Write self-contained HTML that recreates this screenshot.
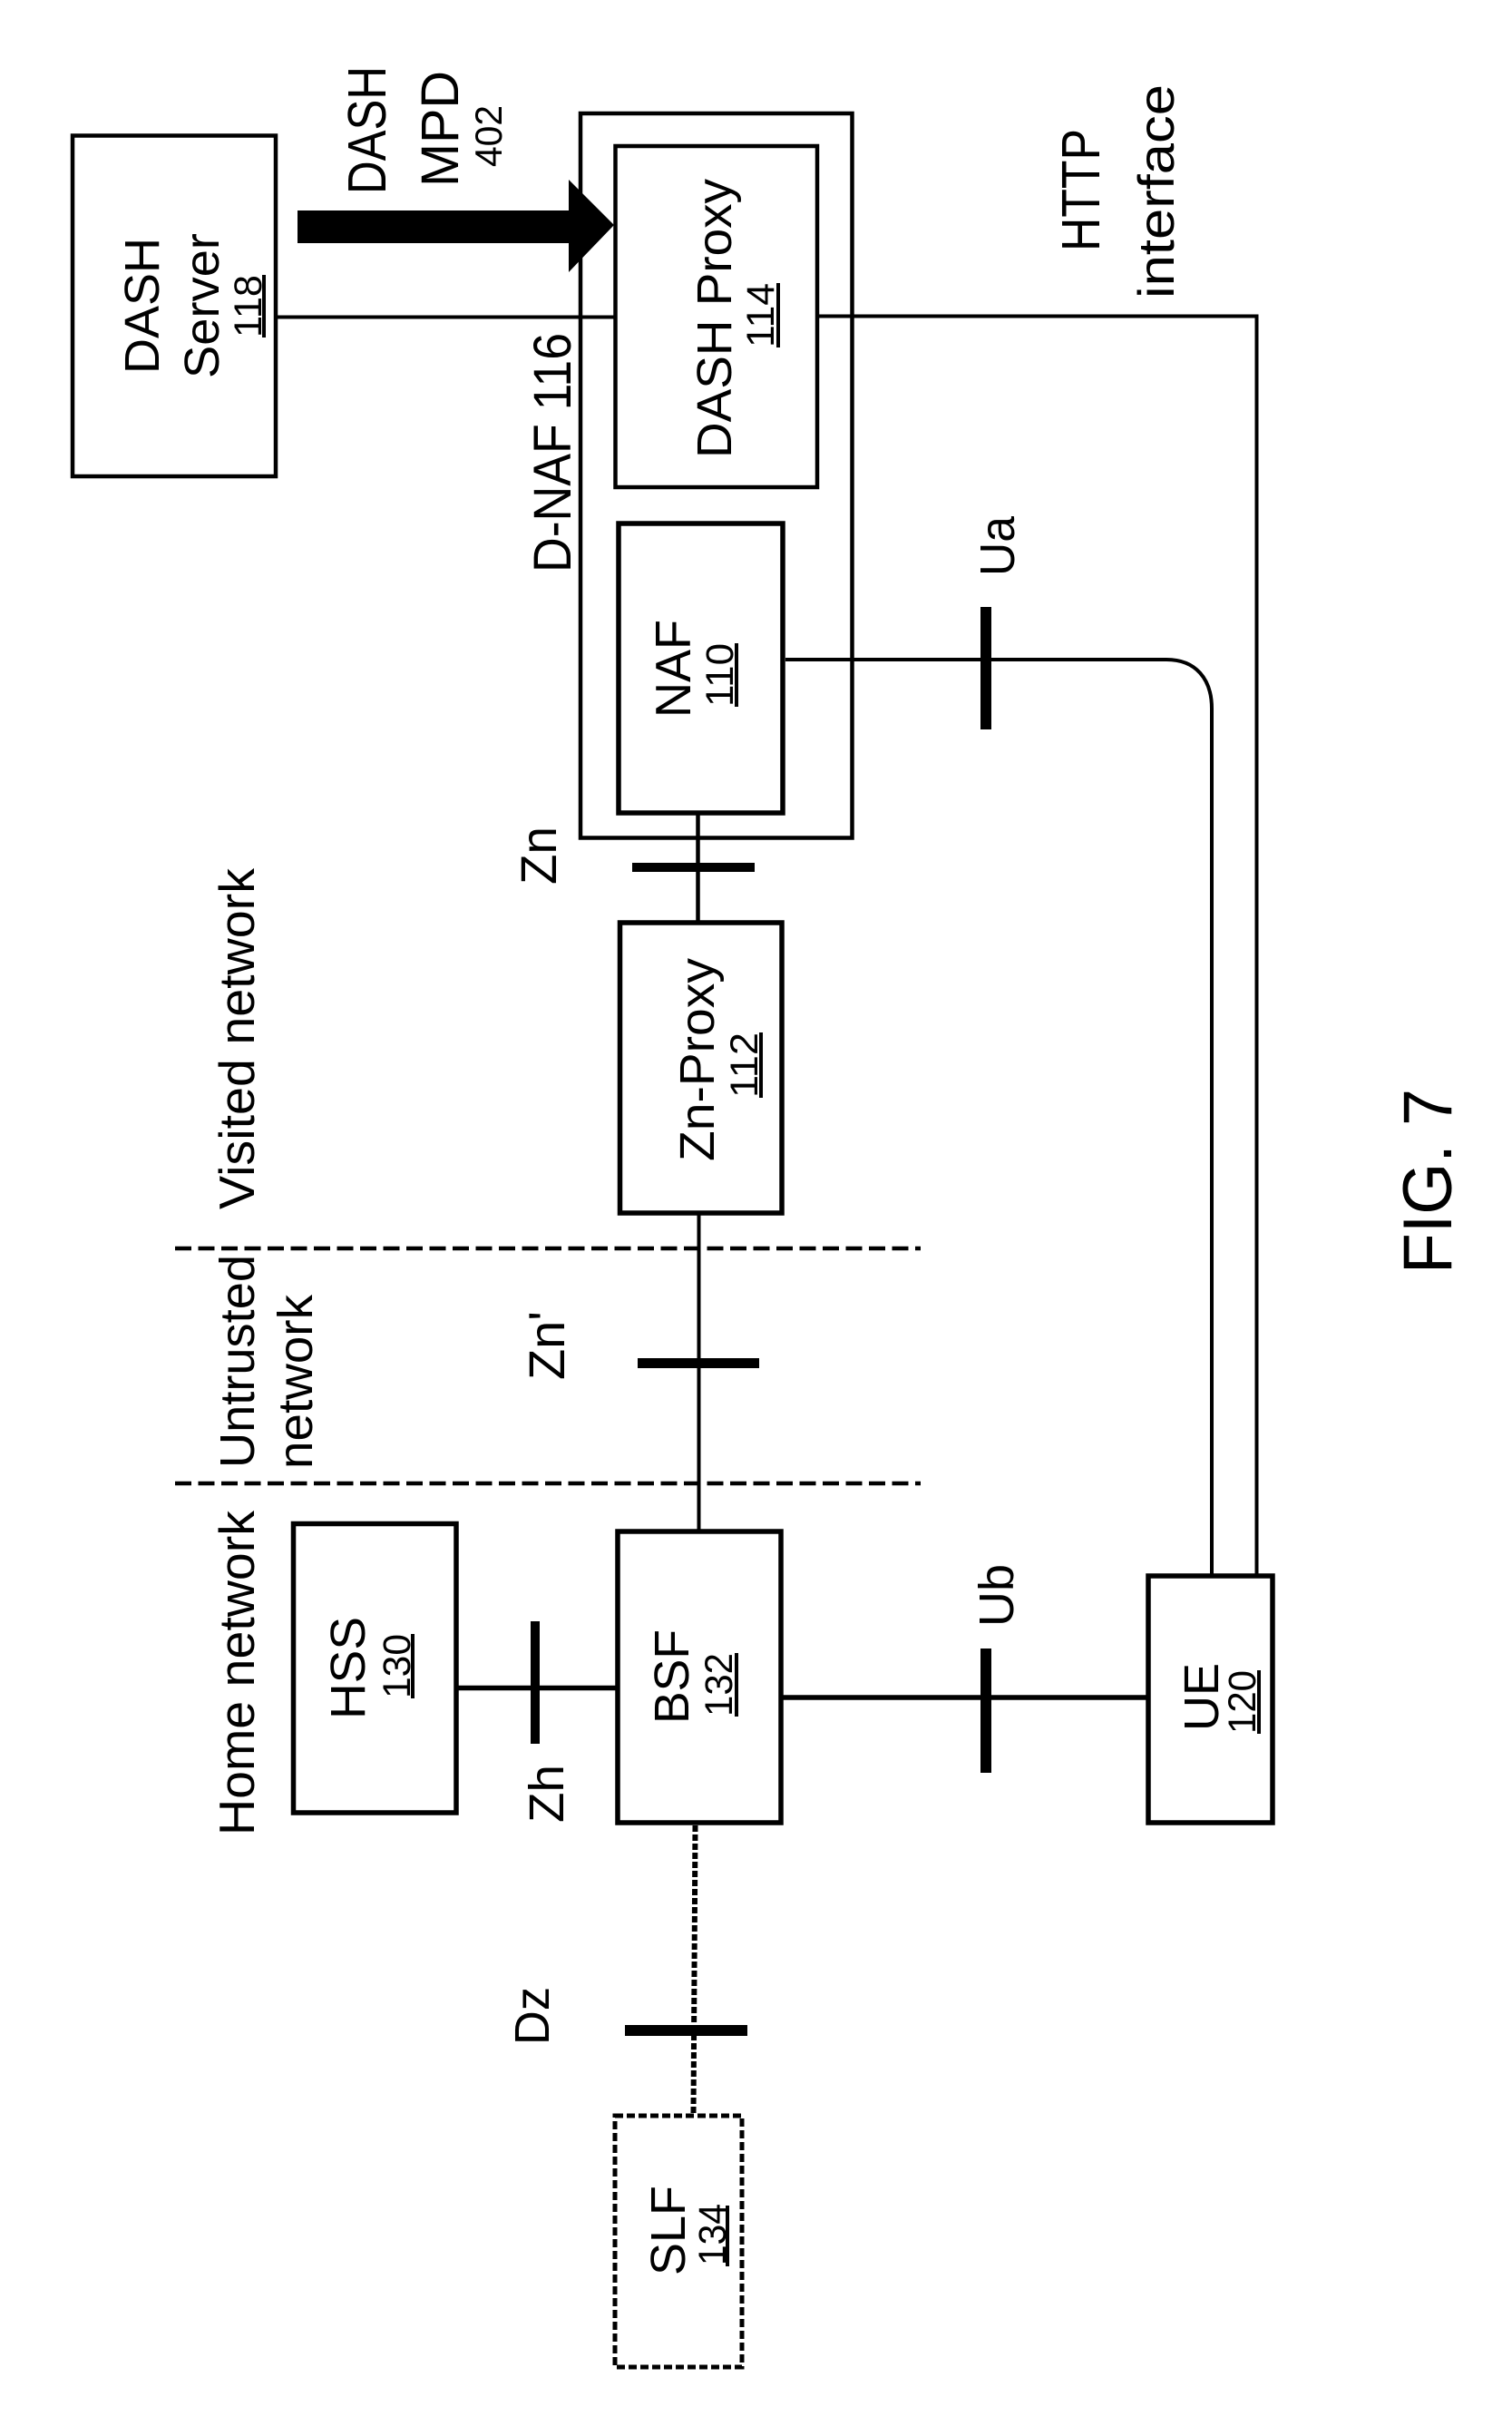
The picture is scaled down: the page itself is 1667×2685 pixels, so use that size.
<!DOCTYPE html>
<html lang="en">
<head>
<meta charset="utf-8">
<title>FIG. 7</title>
<style>
html,body{margin:0;padding:0;background:#fff}
svg{display:block}
text{font-family:"Liberation Sans",Arial,sans-serif;fill:#000}
</style>
</head>
<body>
<svg xmlns="http://www.w3.org/2000/svg" width="1667" height="2685" viewBox="0 0 1667 2685">
<rect width="1667" height="2685" fill="#fff"/>
<g fill="none" stroke="#000">
  <!-- connectors -->
  <path stroke-width="4" d="M304 349.5H678"/>
  <path stroke-width="4" d="M901 348.5H1385.5V1737"/>
  <path stroke-width="4" d="M866 727H1286C1318 727 1336 748 1336 781V1737"/>
  <path stroke-width="4.5" d="M769.5 896V1017"/>
  <path stroke-width="4" d="M770.5 1337V1688"/>
  <path stroke-width="5.5" d="M503 1860.5H681"/>
  <path stroke-width="5.5" d="M861 1871H1266"/>
  <path stroke-width="6" stroke-dasharray="7 3" d="M766.5 2012L764.5 2330"/>
  <!-- network boundaries -->
  <path stroke-width="4.5" stroke-dasharray="18 7.5" d="M193 1376H1015"/>
  <path stroke-width="4.5" stroke-dasharray="18 7.5" d="M193 1635H1015"/>
  <!-- boxes -->
  <rect x="80" y="149.5" width="224" height="375.5" stroke-width="4.5"/>
  <rect x="640" y="125" width="299.5" height="798.5" stroke-width="4.5"/>
  <rect x="678.5" y="161" width="222.5" height="376" stroke-width="4.5"/>
  <rect x="682" y="577" width="181" height="319" stroke-width="5.5"/>
  <rect x="683.5" y="1017" width="178.5" height="320" stroke-width="5.5"/>
  <rect x="323.5" y="1679.5" width="179.5" height="318.5" stroke-width="5.5"/>
  <rect x="681" y="1688" width="180" height="321" stroke-width="5.5"/>
  <rect x="1266" y="1737" width="137" height="272" stroke-width="5.5"/>
  <rect x="678" y="2332" width="140" height="277" stroke-width="5" stroke-dasharray="9 4"/>
</g>
<g fill="#000">
  <!-- block arrow -->
  <polygon points="328,232 627,232 627,198 677,248 627,300 627,268 328,268"/>
  <!-- reference point bars -->
  <rect x="1081" y="669" width="12" height="135"/>
  <rect x="697" y="951" width="135" height="10"/>
  <rect x="703" y="1497" width="134" height="11"/>
  <rect x="585" y="1787" width="10" height="135"/>
  <rect x="1081" y="1817" width="12" height="137"/>
  <rect x="689" y="2232" width="135" height="12"/>
  <!-- underlines -->
  <rect x="289" y="303" width="4" height="69"/>
  <rect x="856" y="312" width="4" height="71"/>
  <rect x="810" y="709" width="4" height="70"/>
  <rect x="837" y="1138" width="4" height="72"/>
  <rect x="453" y="1801" width="4" height="71"/>
  <rect x="810" y="1822" width="4" height="70"/>
  <rect x="1386" y="1841" width="4" height="70"/>
  <rect x="800" y="2431" width="4" height="67"/>
</g>
<!-- text -->
<text transform="translate(425,214) rotate(-90)" font-size="59" textLength="141" lengthAdjust="spacingAndGlyphs">DASH</text>
<text transform="translate(505,206) rotate(-90)" font-size="58" textLength="128" lengthAdjust="spacingAndGlyphs">MPD</text>
<text transform="translate(553,184) rotate(-90)" font-size="42" textLength="68" lengthAdjust="spacingAndGlyphs">402</text>
<text transform="translate(175,412) rotate(-90)" font-size="54" textLength="150" lengthAdjust="spacingAndGlyphs">DASH</text>
<text transform="translate(241,417) rotate(-90)" font-size="54" textLength="160" lengthAdjust="spacingAndGlyphs">Server</text>
<text transform="translate(288,372) rotate(-90)" font-size="43" textLength="69" lengthAdjust="spacingAndGlyphs">118</text>
<text transform="translate(806,505) rotate(-90)" font-size="54" textLength="308" lengthAdjust="spacingAndGlyphs">DASH Proxy</text>
<text transform="translate(853,383) rotate(-90)" font-size="43" textLength="71" lengthAdjust="spacingAndGlyphs">114</text>
<text transform="translate(629,631) rotate(-90)" font-size="58" textLength="264" lengthAdjust="spacingAndGlyphs">D-NAF 116</text>
<text transform="translate(761,791) rotate(-90)" font-size="55" textLength="108" lengthAdjust="spacingAndGlyphs">NAF</text>
<text transform="translate(808,779) rotate(-90)" font-size="43" textLength="70" lengthAdjust="spacingAndGlyphs">110</text>
<text transform="translate(1118,635) rotate(-90)" font-size="54" textLength="66" lengthAdjust="spacingAndGlyphs">Ua</text>
<text transform="translate(1212,277) rotate(-90)" font-size="59" textLength="135" lengthAdjust="spacingAndGlyphs">HTTP</text>
<text transform="translate(1294,329) rotate(-90)" font-size="56" textLength="236" lengthAdjust="spacingAndGlyphs">interface</text>
<text transform="translate(613,975) rotate(-90)" font-size="56" textLength="64" lengthAdjust="spacingAndGlyphs">Zn</text>
<text transform="translate(787,1280) rotate(-90)" font-size="54" textLength="224" lengthAdjust="spacingAndGlyphs">Zn-Proxy</text>
<text transform="translate(835,1210) rotate(-90)" font-size="43" textLength="72" lengthAdjust="spacingAndGlyphs">112</text>
<text transform="translate(622,1521) rotate(-90)" font-size="56" textLength="76" lengthAdjust="spacingAndGlyphs">Zn'</text>
<text transform="translate(280,1333) rotate(-90)" font-size="55" textLength="376" lengthAdjust="spacingAndGlyphs">Visited network</text>
<text transform="translate(280,1618) rotate(-90)" font-size="54" textLength="235" lengthAdjust="spacingAndGlyphs">Untrusted</text>
<text transform="translate(344,1619) rotate(-90)" font-size="54" textLength="192" lengthAdjust="spacingAndGlyphs">network</text>
<text transform="translate(280,2023) rotate(-90)" font-size="55" textLength="358" lengthAdjust="spacingAndGlyphs">Home network</text>
<text transform="translate(402,1895) rotate(-90)" font-size="54" textLength="113" lengthAdjust="spacingAndGlyphs">HSS</text>
<text transform="translate(452,1872) rotate(-90)" font-size="43" textLength="71" lengthAdjust="spacingAndGlyphs">130</text>
<text transform="translate(621,2009) rotate(-90)" font-size="54" textLength="64" lengthAdjust="spacingAndGlyphs">Zh</text>
<text transform="translate(759,1900) rotate(-90)" font-size="54" textLength="104" lengthAdjust="spacingAndGlyphs">BSF</text>
<text transform="translate(807,1892) rotate(-90)" font-size="43" textLength="70" lengthAdjust="spacingAndGlyphs">132</text>
<text transform="translate(1117,1793) rotate(-90)" font-size="54" textLength="69" lengthAdjust="spacingAndGlyphs">Ub</text>
<text transform="translate(1343,1908) rotate(-90)" font-size="54" textLength="75" lengthAdjust="spacingAndGlyphs">UE</text>
<text transform="translate(1384,1911) rotate(-90)" font-size="43" textLength="70" lengthAdjust="spacingAndGlyphs">120</text>
<text transform="translate(605,2254) rotate(-90)" font-size="54" textLength="64" lengthAdjust="spacingAndGlyphs">Dz</text>
<text transform="translate(755,2508) rotate(-90)" font-size="54" textLength="99" lengthAdjust="spacingAndGlyphs">SLF</text>
<text transform="translate(800,2497) rotate(-90)" font-size="43" textLength="68" lengthAdjust="spacingAndGlyphs">134</text>
<text transform="translate(1600,1404) rotate(-90)" font-size="76" textLength="204" lengthAdjust="spacingAndGlyphs">FIG. 7</text>
</svg>
</body>
</html>
